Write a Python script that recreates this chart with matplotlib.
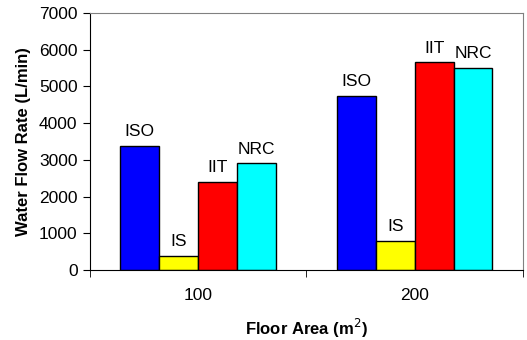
import numpy as np
import matplotlib.pyplot as plt

plt.rcParams['font.family'] = ['Liberation Sans', 'DejaVu Sans']

areas = ['100', '200']
codes = ['ISO', 'IS', 'IIT', 'NRC']
colors = ['#0000ff', '#ffff00', '#ff0000', '#00ffff']
flow = {
    'ISO': [3370, 4740],
    'IS': [380, 800],
    'IIT': [2400, 5650],
    'NRC': [2900, 5500],
}

fig = plt.figure(figsize=(5.27, 3.4), dpi=100)
ax = fig.add_axes([0.171, 0.206, 0.821, 0.756])

x = np.arange(len(areas))
w = 0.18
for i, c in enumerate(codes):
    pos = x + (i - 1.5) * w
    ax.bar(pos, flow[c], w, color=colors[i], edgecolor='black', linewidth=1)
    for p, v in zip(pos, flow[c]):
        ax.annotate(c, (p, v), xytext=(0, 5), textcoords='offset points',
                    ha='center', va='bottom', fontsize=12.5)

ax.set_xlim(-0.5, 1.5)
ax.set_ylim(0, 7000)
ax.set_yticks(range(0, 7001, 1000))
ax.set_xticks(x)
ax.set_xticklabels(areas)
ax.set_xticks([-0.5, 0.5, 1.5], minor=True)
ax.tick_params(axis='x', which='major', length=0, pad=13, labelsize=12.5)
ax.tick_params(axis='x', which='minor', length=5)
ax.tick_params(axis='y', length=5, labelsize=12.5, pad=4)

for s in ['top', 'right']:
    ax.spines[s].set_color('#808080')

ax.set_ylabel('Water Flow Rate (L/min)', fontsize=12, fontweight='bold', labelpad=6)
ax.set_xlabel('Floor Area (m$^2$)', fontsize=12, fontweight='bold', labelpad=10)

fig.savefig('out.png')
